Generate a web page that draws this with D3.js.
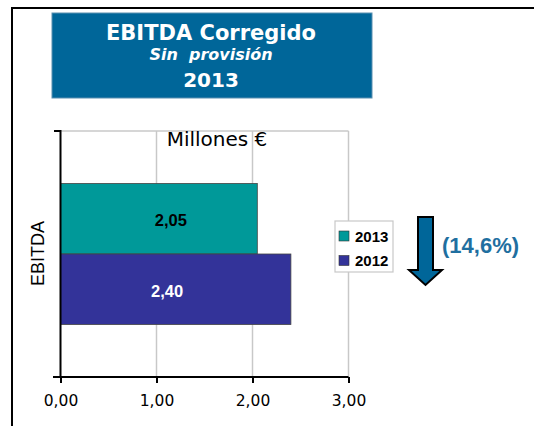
<!DOCTYPE html>
<html>
<head>
<meta charset="utf-8">
<script src="https://cdn.jsdelivr.net/npm/d3@7"></script>
<style>
  body { margin: 0; background: #fff; }
  svg { display: block; }
</style>
</head>
<body>
<svg id="chart" width="534" height="426"></svg>
<script>
let title_lines = ["EBITDA Corregido", "Sin  provisión", "2013"];
let category = "EBITDA";
let series = ["2013", "2012"];
let values = [2.05, 2.40];
let value_labels = ["2,05", "2,40"];
let series_colors = ["#009999", "#333399"];
let label_colors = ["#000000", "#ffffff"];
let x_ticks = [0, 1, 2, 3];
let unit_label = "Millones €";
let change_label = "(14,6%)";

let svg = d3.select("#chart");

// outer frame (only top and left visible)
svg.append("path")
    .attr("d", "M12,426 L12,8 L534,8")
    .attr("fill", "none")
    .attr("stroke", "#000")
    .attr("stroke-width", 2);

// title box
svg.append("rect")
    .attr("x", 52).attr("y", 13)
    .attr("width", 320).attr("height", 85)
    .attr("fill", "#006699")
    .attr("stroke", "#5a8fb0")
    .attr("stroke-width", 1);

let title_styles = [
    {y: 40, size: "21px", style: "normal"},
    {y: 60, size: "16px", style: "italic"},
    {y: 87, size: "20px", style: "normal"}
];
svg.selectAll(".title")
    .data(title_lines)
    .enter().append("text")
    .attr("class", "title")
    .attr("x", 211)
    .attr("y", (d, i) => title_styles[i].y)
    .attr("text-anchor", "middle")
    .attr("fill", "#fff")
    .style("font-family", "DejaVu Sans, Verdana, sans-serif")
    .style("font-weight", "bold")
    .style("font-size", (d, i) => title_styles[i].size)
    .style("font-style", (d, i) => title_styles[i].style)
    .style("white-space", "pre")
    .text(d => d);

// plot area
let plot_top = 131, plot_bottom = 377;
let x = d3.scaleLinear().domain([0, 3]).range([60.5, 348.5]);
let y = d3.scaleBand().domain(series).range([plot_top, plot_bottom])
    .paddingInner(0).paddingOuter(0.745);

// gridlines
svg.append("g")
    .selectAll("line")
    .data(x_ticks.slice(1))
    .enter().append("line")
    .attr("x1", d => x(d)).attr("x2", d => x(d))
    .attr("y1", plot_top).attr("y2", plot_bottom)
    .attr("stroke", "#c8c8c8")
    .attr("stroke-width", 1.5);

svg.append("line")
    .attr("x1", x(0)).attr("x2", x(3))
    .attr("y1", plot_top).attr("y2", plot_top)
    .attr("stroke", "#c8c8c8")
    .attr("stroke-width", 1.5);

// bars
svg.append("g")
    .selectAll("rect")
    .data(values)
    .enter().append("rect")
    .attr("x", x(0))
    .attr("y", (d, i) => y(series[i]))
    .attr("width", d => x(d) - x(0))
    .attr("height", y.bandwidth())
    .attr("fill", (d, i) => series_colors[i])
    .attr("stroke", "#444")
    .attr("stroke-width", 0.8);

// bar labels
svg.append("g")
    .selectAll("text")
    .data(values)
    .enter().append("text")
    .attr("x", (d, i) => x(i == 0 ? 1.15 : 1.11))
    .attr("y", (d, i) => y(series[i]) + y.bandwidth() / 2 + 7.5)
    .attr("text-anchor", "middle")
    .attr("fill", (d, i) => label_colors[i])
    .style("font-family", "Liberation Sans, Arial, sans-serif")
    .style("font-weight", "bold")
    .style("font-size", "16.5px")
    .text((d, i) => value_labels[i]);

// x axis
let x_axis = d3.axisBottom(x)
    .tickValues(x_ticks)
    .tickSize(6)
    .tickPadding(12)
    .tickSizeOuter(0)
    .tickFormat(d => d3.format(".2f")(d).replace(".", ","));

let gx = svg.append("g")
    .attr("transform", "translate(0," + plot_bottom + ")")
    .call(x_axis);
gx.select(".domain").attr("stroke", "#000").attr("stroke-width", 2)
    .attr("d", "M53,0H" + x(3));
gx.selectAll(".tick line").attr("stroke", "#000").attr("stroke-width", 2);
gx.selectAll(".tick text")
    .attr("fill", "#000")
    .style("font-family", "DejaVu Sans, Verdana, sans-serif")
    .style("font-size", "15.5px");

// y axis
svg.append("path")
    .attr("d", "M54," + plot_top + "H" + x(0) + "V" + plot_bottom)
    .attr("fill", "none")
    .attr("stroke", "#000")
    .attr("stroke-width", 2);

svg.append("text")
    .attr("transform", "translate(44,253.5) rotate(-90)")
    .attr("text-anchor", "middle")
    .attr("fill", "#000")
    .style("font-family", "Liberation Sans, Arial, sans-serif")
    .style("font-size", "18px")
    .text(category);

// unit label
svg.append("text")
    .attr("x", 217)
    .attr("y", 145.5)
    .attr("text-anchor", "middle")
    .attr("fill", "#000")
    .style("font-family", "DejaVu Sans, Verdana, sans-serif")
    .style("font-size", "20px")
    .text(unit_label);

// legend
let legend = svg.append("g").attr("transform", "translate(335,221)");
legend.append("rect")
    .attr("width", 58).attr("height", 51)
    .attr("fill", "#fff")
    .attr("stroke", "#c8c8c8")
    .attr("stroke-width", 1.2);

let items = legend.selectAll(".item")
    .data(series)
    .enter().append("g")
    .attr("class", "item")
    .attr("transform", (d, i) => "translate(4," + (10 + i * 24.5) + ")");
items.append("rect")
    .attr("width", 10).attr("height", 10)
    .attr("fill", (d, i) => series_colors[i])
    .attr("stroke", "#333")
    .attr("stroke-width", 0.6);
items.append("text")
    .attr("x", 16).attr("y", 10.5)
    .attr("fill", "#000")
    .style("font-family", "Liberation Sans, Arial, sans-serif")
    .style("font-weight", "bold")
    .style("font-size", "15px")
    .text(d => d);

// change arrow
svg.append("path")
    .attr("d", "M418,217 H433 V270 H442 L425.5,285 L409,270 H418 Z")
    .attr("fill", "#006699")
    .attr("stroke", "#000")
    .attr("stroke-width", 2)
    .attr("stroke-linejoin", "miter");

svg.append("text")
    .attr("x", 442)
    .attr("y", 253)
    .attr("fill", "#1f6fa0")
    .style("font-family", "Liberation Sans, Arial, sans-serif")
    .style("font-weight", "bold")
    .style("font-size", "22px")
    .text(change_label);
</script>
</body>
</html>
